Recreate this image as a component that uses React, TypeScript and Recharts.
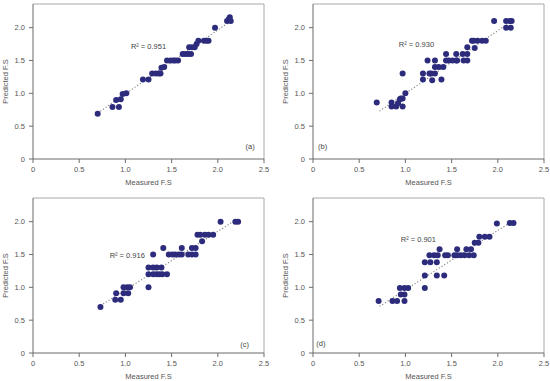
import React from 'react'
import {
  ScatterChart,
  Scatter,
  XAxis,
  YAxis,
  ReferenceLine,
  ReferenceDot,
} from 'recharts'

type Pt = { x: number; y: number }

const X_TICKS = [0, 0.5, 1, 1.5, 2, 2.5]
const Y_TICKS = [0, 0.5, 1, 1.5, 2]
const Y_MAX = 2.36

const pointsA: Pt[] = [
  { x: 0.7, y: 0.69 }, { x: 0.86, y: 0.79 }, { x: 0.93, y: 0.79 },
  { x: 0.9, y: 0.9 }, { x: 0.95, y: 0.91 }, { x: 0.97, y: 0.99 },
  { x: 1.01, y: 1.0 }, { x: 1.19, y: 1.21 }, { x: 1.25, y: 1.21 },
  { x: 1.29, y: 1.3 }, { x: 1.33, y: 1.3 }, { x: 1.36, y: 1.3 },
  { x: 1.38, y: 1.3 }, { x: 1.39, y: 1.39 }, { x: 1.42, y: 1.4 },
  { x: 1.45, y: 1.5 }, { x: 1.49, y: 1.5 }, { x: 1.52, y: 1.5 },
  { x: 1.54, y: 1.5 }, { x: 1.57, y: 1.5 }, { x: 1.62, y: 1.6 },
  { x: 1.65, y: 1.6 }, { x: 1.68, y: 1.6 }, { x: 1.71, y: 1.6 },
  { x: 1.69, y: 1.7 }, { x: 1.72, y: 1.7 }, { x: 1.75, y: 1.7 },
  { x: 1.77, y: 1.75 }, { x: 1.79, y: 1.8 }, { x: 1.85, y: 1.8 },
  { x: 1.88, y: 1.8 }, { x: 1.9, y: 1.8 }, { x: 1.97, y: 2.0 },
  { x: 2.1, y: 2.1 }, { x: 2.12, y: 2.13 }, { x: 2.13, y: 2.16 },
  { x: 2.14, y: 2.1 },
]

const pointsB: Pt[] = [
  { x: 0.69, y: 0.86 }, { x: 0.85, y: 0.86 }, { x: 0.85, y: 0.8 },
  { x: 0.9, y: 0.8 }, { x: 0.92, y: 0.85 }, { x: 0.94, y: 0.91 },
  { x: 0.95, y: 0.92 }, { x: 0.97, y: 0.92 }, { x: 0.97, y: 0.8 },
  { x: 1.0, y: 1.0 }, { x: 0.97, y: 1.3 }, { x: 1.19, y: 1.21 },
  { x: 1.19, y: 1.3 }, { x: 1.24, y: 1.5 }, { x: 1.26, y: 1.3 },
  { x: 1.28, y: 1.3 }, { x: 1.29, y: 1.2 }, { x: 1.32, y: 1.3 },
  { x: 1.32, y: 1.5 }, { x: 1.32, y: 1.4 }, { x: 1.36, y: 1.4 },
  { x: 1.39, y: 1.21 }, { x: 1.41, y: 1.4 }, { x: 1.44, y: 1.6 },
  { x: 1.44, y: 1.5 }, { x: 1.47, y: 1.5 }, { x: 1.51, y: 1.5 },
  { x: 1.55, y: 1.5 }, { x: 1.55, y: 1.6 }, { x: 1.56, y: 1.5 },
  { x: 1.62, y: 1.6 }, { x: 1.63, y: 1.5 }, { x: 1.67, y: 1.5 },
  { x: 1.67, y: 1.6 }, { x: 1.67, y: 1.7 }, { x: 1.72, y: 1.8 },
  { x: 1.74, y: 1.8 }, { x: 1.78, y: 1.8 }, { x: 1.75, y: 1.69 },
  { x: 1.83, y: 1.8 }, { x: 1.87, y: 1.8 }, { x: 1.96, y: 2.1 },
  { x: 2.09, y: 2.1 }, { x: 2.13, y: 2.1 }, { x: 2.15, y: 2.1 },
  { x: 2.09, y: 2.0 }, { x: 2.14, y: 2.0 },
]

const pointsC: Pt[] = [
  { x: 0.73, y: 0.7 }, { x: 0.89, y: 0.81 }, { x: 0.9, y: 0.91 },
  { x: 0.95, y: 0.81 }, { x: 0.98, y: 1.0 }, { x: 1.02, y: 1.0 },
  { x: 1.05, y: 1.0 }, { x: 0.98, y: 0.91 }, { x: 1.03, y: 0.91 },
  { x: 1.25, y: 1.0 }, { x: 1.25, y: 1.2 }, { x: 1.25, y: 1.3 },
  { x: 1.3, y: 1.5 }, { x: 1.3, y: 1.3 }, { x: 1.34, y: 1.3 },
  { x: 1.39, y: 1.3 }, { x: 1.3, y: 1.2 }, { x: 1.34, y: 1.2 },
  { x: 1.37, y: 1.2 }, { x: 1.4, y: 1.2 }, { x: 1.41, y: 1.6 },
  { x: 1.45, y: 1.2 }, { x: 1.47, y: 1.5 }, { x: 1.51, y: 1.5 },
  { x: 1.54, y: 1.5 }, { x: 1.58, y: 1.5 }, { x: 1.61, y: 1.5 },
  { x: 1.61, y: 1.6 }, { x: 1.68, y: 1.5 }, { x: 1.72, y: 1.5 },
  { x: 1.76, y: 1.5 }, { x: 1.72, y: 1.6 }, { x: 1.76, y: 1.6 },
  { x: 1.78, y: 1.8 }, { x: 1.81, y: 1.8 }, { x: 1.83, y: 1.7 },
  { x: 1.86, y: 1.8 }, { x: 1.9, y: 1.8 }, { x: 1.95, y: 1.8 },
  { x: 2.03, y: 2.0 }, { x: 2.19, y: 2.0 }, { x: 2.22, y: 2.0 },
]

const pointsD: Pt[] = [
  { x: 0.71, y: 0.79 }, { x: 0.86, y: 0.79 }, { x: 0.91, y: 0.79 },
  { x: 0.94, y: 0.99 }, { x: 0.95, y: 0.89 }, { x: 0.99, y: 0.89 },
  { x: 0.99, y: 0.99 }, { x: 1.03, y: 0.99 }, { x: 0.99, y: 0.79 },
  { x: 1.21, y: 0.99 }, { x: 1.21, y: 1.18 }, { x: 1.21, y: 1.38 },
  { x: 1.26, y: 1.49 }, { x: 1.27, y: 1.38 }, { x: 1.31, y: 1.49 },
  { x: 1.35, y: 1.49 }, { x: 1.34, y: 1.38 }, { x: 1.34, y: 1.18 },
  { x: 1.37, y: 1.58 }, { x: 1.42, y: 1.18 }, { x: 1.43, y: 1.49 },
  { x: 1.46, y: 1.49 }, { x: 1.53, y: 1.49 }, { x: 1.56, y: 1.49 },
  { x: 1.6, y: 1.49 }, { x: 1.56, y: 1.58 }, { x: 1.64, y: 1.49 },
  { x: 1.69, y: 1.49 }, { x: 1.74, y: 1.49 }, { x: 1.66, y: 1.58 },
  { x: 1.71, y: 1.58 }, { x: 1.75, y: 1.68 }, { x: 1.79, y: 1.68 },
  { x: 1.8, y: 1.77 }, { x: 1.86, y: 1.77 }, { x: 1.91, y: 1.77 },
  { x: 1.99, y: 1.97 }, { x: 2.13, y: 1.98 }, { x: 2.17, y: 1.98 },
]

const trendA: Pt[] = [{ x: 0.7, y: 0.7 }, { x: 2.12, y: 2.08 }]
const trendB: Pt[] = [{ x: 0.72, y: 0.73 }, { x: 2.1, y: 2.05 }]
const trendC: Pt[] = [{ x: 0.73, y: 0.72 }, { x: 2.2, y: 2.03 }]
const trendD: Pt[] = [{ x: 0.72, y: 0.71 }, { x: 2.15, y: 2.0 }]

const r2Labels = ['R² = 0.951', 'R² = 0.930', 'R² = 0.916', 'R² = 0.901']
const r2Pos: Pt[] = [{ x: 1.25, y: 1.71 }, { x: 1.12, y: 1.74 }, { x: 1.02, y: 1.49 }, { x: 1.14, y: 1.73 }]
const panelLabels = ['(a)', '(b)', '(c)', '(d)']
const panelPos: Pt[] = [{ x: 2.35, y: 0.2 }, { x: 0.105, y: 0.19 }, { x: 2.29, y: 0.13 }, { x: 0.085, y: 0.14 }]

const DOT = '#2d2c7c'
const AXIS = '#6b6b6b'
const FRAME = '#a8a8a8'
const TEXT = '#555'
const FS = 7.5

const fmt = (v: number) => (v === 0 ? '0' : v.toFixed(1))

const Dot = (p: any) => <circle cx={p.cx} cy={p.cy} r={3} fill={DOT} />

function Panel({ data, trend, idx }: { data: Pt[]; trend: Pt[]; idx: number }) {
  return (
    <ScatterChart width={270} height={187} margin={{ top: 4, right: 6, left: 0, bottom: 0 }}>
      <XAxis
        type="number"
        dataKey="x"
        domain={[0, 2.5]}
        ticks={X_TICKS}
        tickFormatter={fmt}
        stroke={AXIS}
        tickSize={4}
        tickMargin={4}
        height={28}
        tick={{ fontSize: FS, fill: TEXT }}
        label={{ value: 'Measured F.S', position: 'insideBottom', offset: 2, fontSize: FS, fill: TEXT }}
      />
      <YAxis
        type="number"
        dataKey="y"
        domain={[0, Y_MAX]}
        ticks={Y_TICKS}
        tickFormatter={fmt}
        stroke={AXIS}
        tickSize={4}
        tickMargin={4}
        width={33}
        tick={{ fontSize: FS, fill: TEXT }}
        label={{ value: 'Predicted F.S', angle: -90, position: 'insideLeft', offset: 5, fontSize: FS, fill: TEXT, style: { textAnchor: 'middle' } }}
      />
      <ReferenceLine y={Y_MAX} stroke={FRAME} />
      <ReferenceLine x={2.5} stroke={FRAME} />
      <ReferenceLine
        segment={[trend[0], trend[1]]}
        stroke="#8a8a8a"
        strokeWidth={1.2}
        strokeDasharray="1.2 2"
      />
      <Scatter data={data} fill={DOT} shape={Dot} isAnimationActive={false} />
      <ReferenceDot
        x={r2Pos[idx].x}
        y={r2Pos[idx].y}
        r={0}
        fill="none"
        stroke="none"
        label={{ value: r2Labels[idx], position: 'center', fontSize: FS, fill: '#444' }}
      />
      <ReferenceDot
        x={panelPos[idx].x}
        y={panelPos[idx].y}
        r={0}
        fill="none"
        stroke="none"
        label={{ value: panelLabels[idx], position: 'center', fontSize: FS, fill: '#444' }}
      />
    </ScatterChart>
  )
}

export default function App() {
  const box = (left: number, top: number): React.CSSProperties => ({ position: 'absolute', left, top })
  return (
    <div
      style={{
        position: 'absolute',
        left: 0,
        top: 0,
        width: 550,
        height: 381,
        background: '#fff',
        fontFamily: '"Liberation Sans", Arial, sans-serif',
      }}
    >
      <div style={box(0, 0)}>
        <Panel data={pointsA} trend={trendA} idx={0} />
      </div>
      <div style={box(280, 0)}>
        <Panel data={pointsB} trend={trendB} idx={1} />
      </div>
      <div style={box(0, 194)}>
        <Panel data={pointsC} trend={trendC} idx={2} />
      </div>
      <div style={box(280, 194)}>
        <Panel data={pointsD} trend={trendD} idx={3} />
      </div>
    </div>
  )
}
